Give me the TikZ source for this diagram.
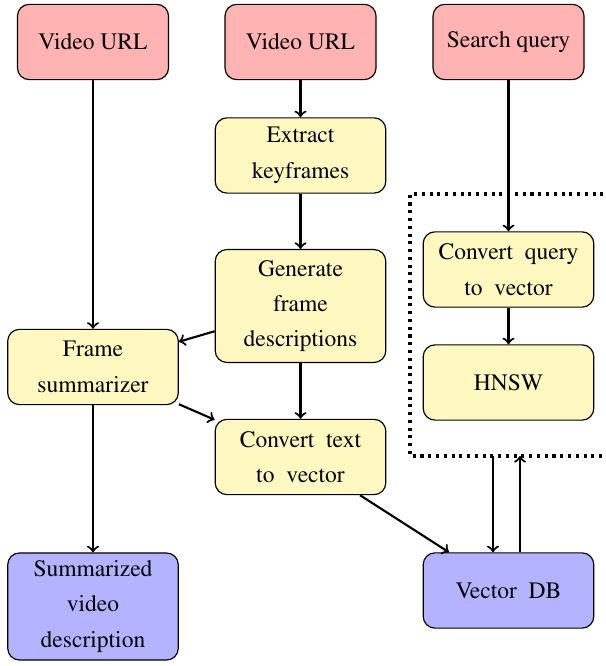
\documentclass[tikz,border=0pt]{standalone}
\usepackage[T1]{fontenc}
\usepackage{times}
\definecolor{pinkc}{RGB}{255,179,179}
\definecolor{yelc}{RGB}{255,248,192}
\definecolor{bluec}{RGB}{179,179,255}
\newcommand\mywidesp{\spaceskip=5pt plus 1pt minus 1pt\relax}
\begin{document}
\begin{tikzpicture}[x=0.425pt,y=-0.425pt,
  box/.style={draw, rounded corners=5pt, align=center, line width=0.5pt,
    font=\rmfamily\fontsize{10}{15}\selectfont, inner sep=2pt},
  widebox/.style={box, font={\rmfamily\fontsize{10}{15}\selectfont\mywidesp}},
  pinkbox/.style={box, fill=pinkc, minimum width=64.2pt, minimum height=32pt},
  yelbox/.style={widebox, fill=yelc, minimum width=72.5pt, minimum height=32pt},
  bluebox/.style={widebox, fill=bluec, minimum width=72.5pt, minimum height=32pt},
  conn/.style={->, line width=0.9pt},
  grpbox/.style={dotted, line width=1.3pt}]
\useasboundingbox (0,0) rectangle (605,666);
\node[pinkbox] (url1) at (93,42) {Video URL};
\node[pinkbox] (url2) at (300.5,42) {Video URL};
\node[pinkbox] (sq) at (508.5,42) {Search query};
\node[yelbox] (ek) at (300.5,155.5) {Extract\\keyframes};
\node[yelbox, minimum height=48pt] (gen) at (300.5,306) {Generate\\frame\\descriptions};
\node[yelbox] (fs) at (93,367) {Frame\\summarizer};
\node[yelbox] (ctv) at (300.5,457) {Convert text\\to vector};
\node[yelbox] (cqv) at (508.5,269.5) {Convert query\\to vector};
\node[yelbox] (hnsw) at (508.5,382.5) {HNSW};
\node[bluebox, minimum height=45.5pt] (svd) at (93,606.5) {Summarized\\video\\description};
\node[bluebox] (vdb) at (508.5,590.5) {Vector DB};
\draw[grpbox] (650,194) -- (410,194) -- (410,456) -- (650,456);
\coordinate (gdown) at (493,456);
\coordinate (gup) at (520,456);
\draw[conn] (url1) -- (fs);
\draw[conn] (url2) -- (ek);
\draw[conn] (sq) -- (cqv);
\draw[conn] (ek) -- (gen);
\draw[conn] (gen) -- (fs);
\draw[conn] (fs) -- (ctv);
\draw[conn] (gen) -- (ctv);
\draw[conn] (fs) -- (svd);
\draw[conn] (cqv) -- (hnsw);
\draw[conn] (ctv) -- (vdb);
\draw[conn] (gdown) -- (gdown |- vdb.north);
\draw[conn] (gup |- vdb.north) -- (gup);
\end{tikzpicture}
\end{document}
